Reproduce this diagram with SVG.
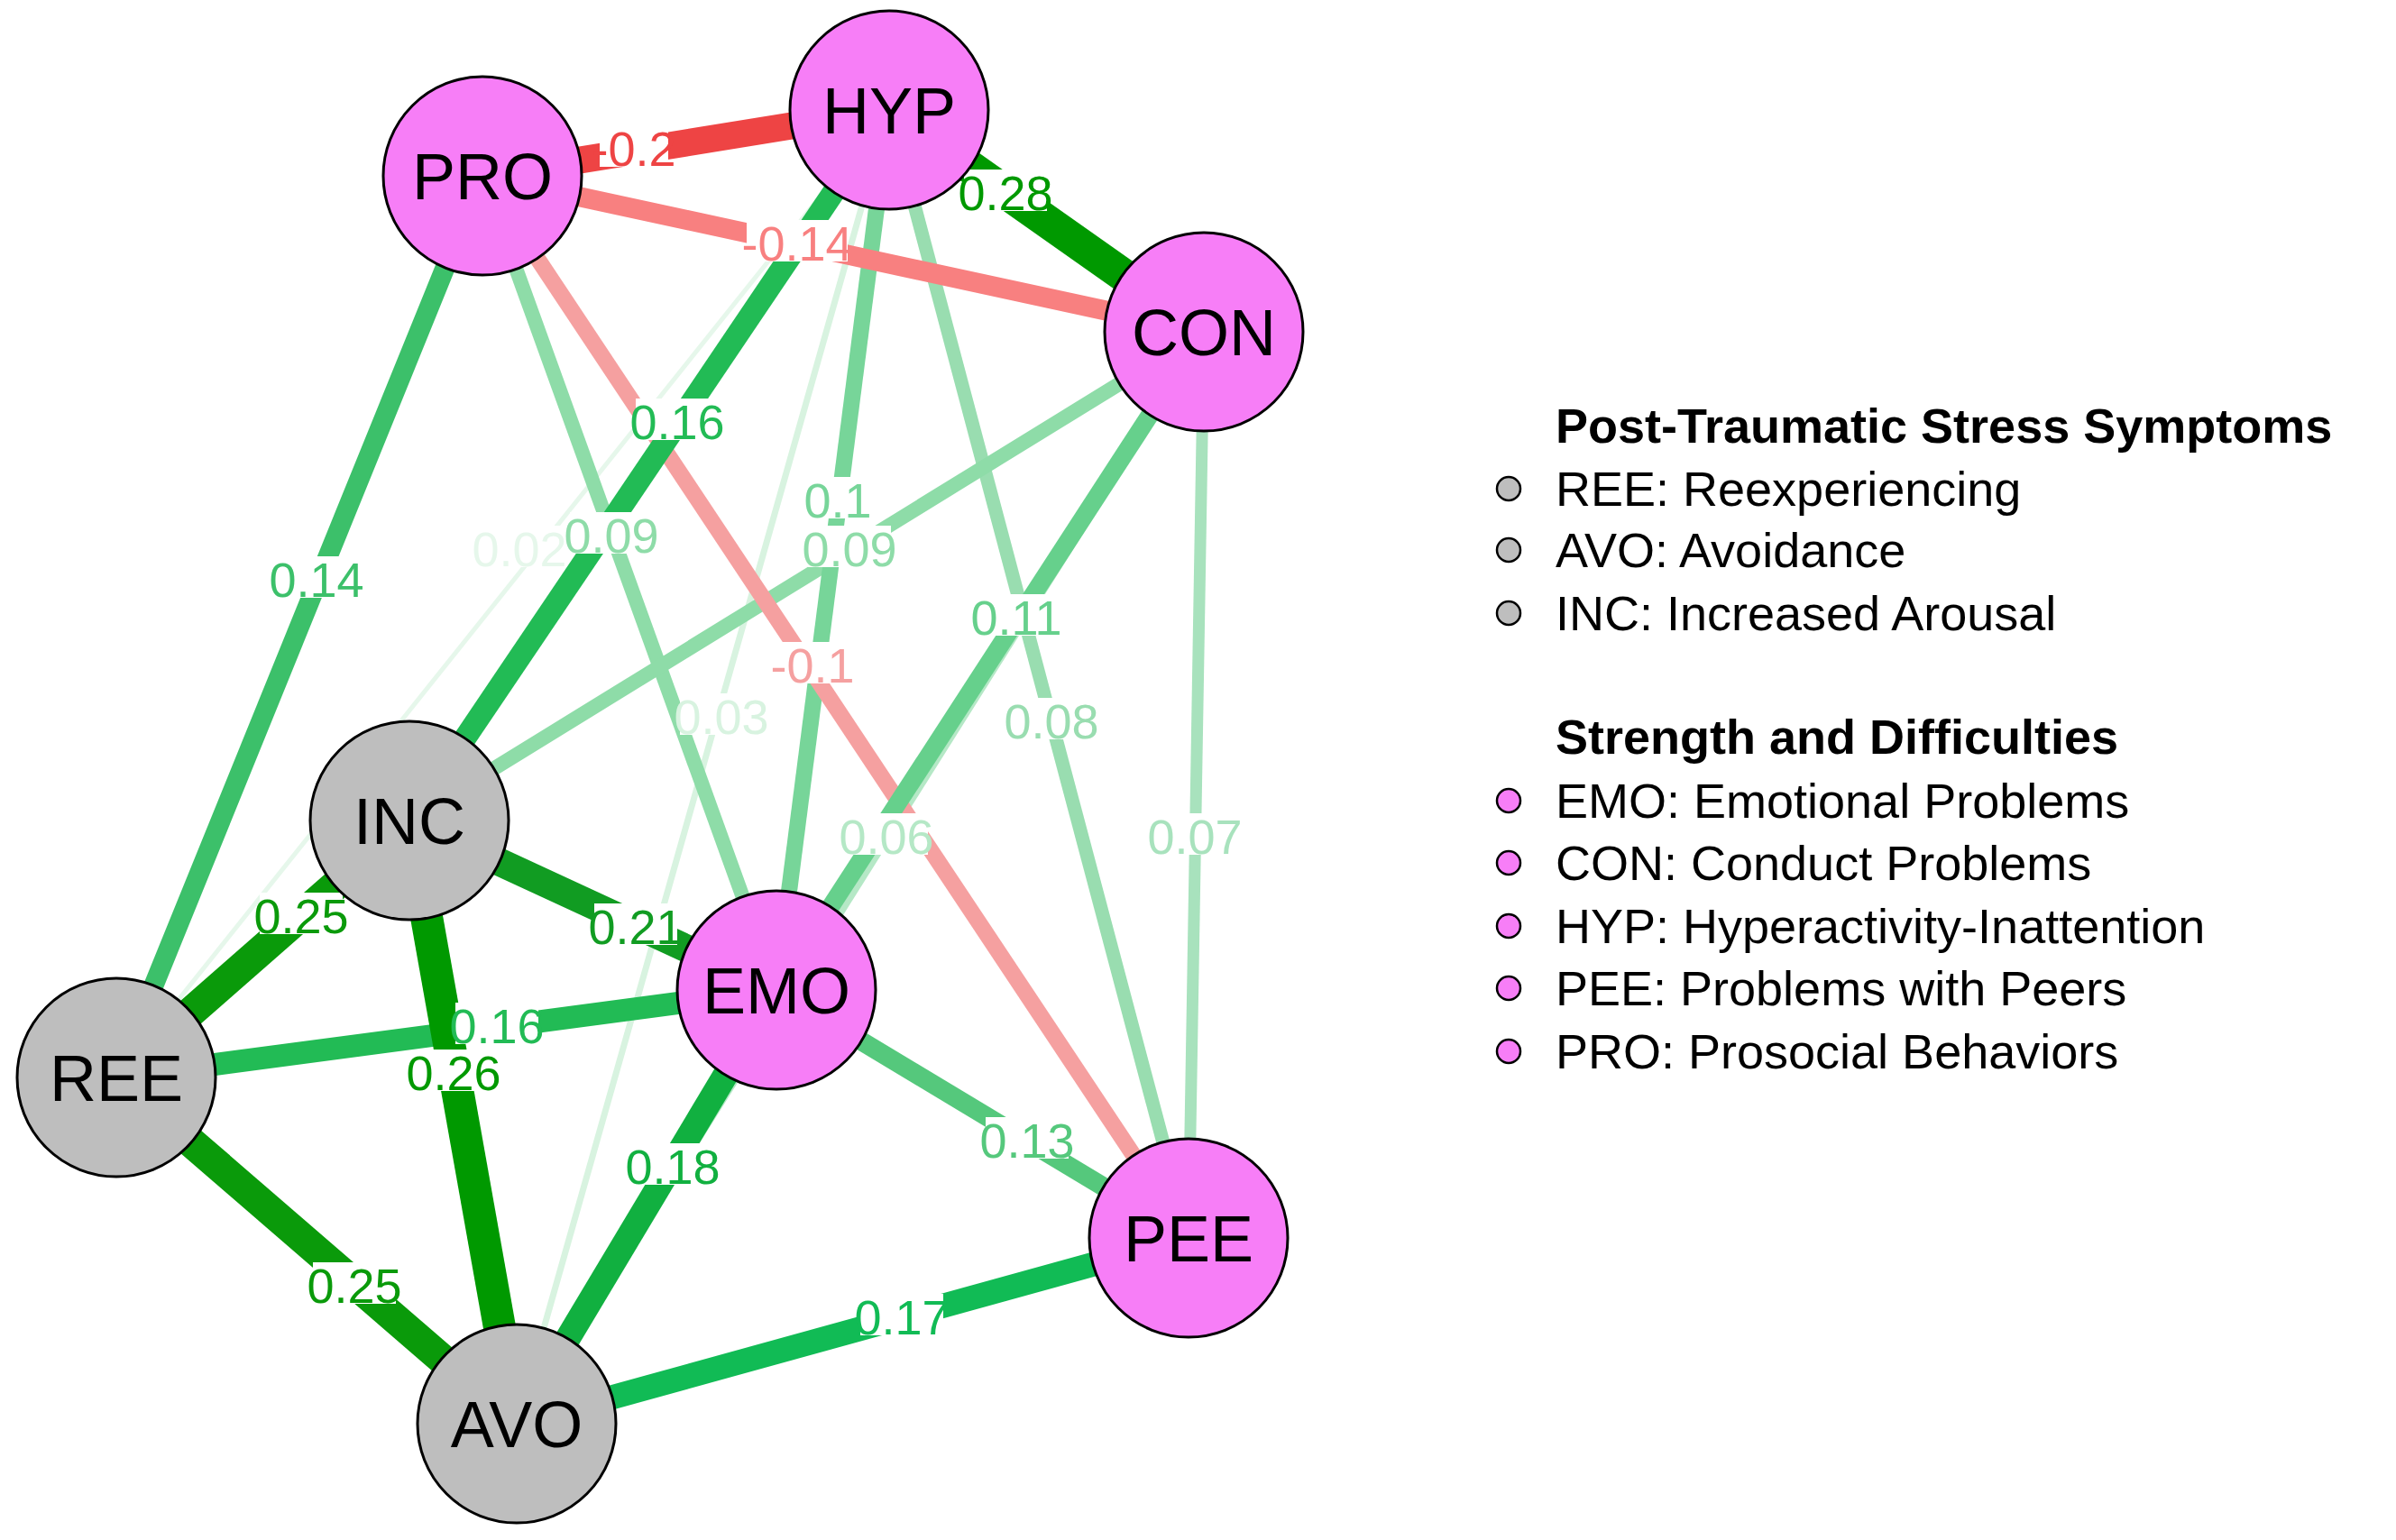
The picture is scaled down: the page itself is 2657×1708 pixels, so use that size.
<svg xmlns="http://www.w3.org/2000/svg" width="2657" height="1708" viewBox="0 0 2657 1708">
<style>
.n{stroke:#000;stroke-width:3}
.p{fill:#F77EF7}.g{fill:#BEBEBE}
.nt{font-family:"Liberation Sans",Arial,sans-serif;font-size:72px;text-anchor:middle;fill:#000}
.el{font-family:"Liberation Sans",Arial,sans-serif;font-size:54px;text-anchor:middle}
.lt{font-family:"Liberation Sans",Arial,sans-serif;font-size:54px;fill:#000}
.lb{font-weight:bold}
line{stroke-linecap:butt}
</style>
<rect width="2657" height="1708" fill="#fff"/>
<g id="connectors">
<line x1="986" y1="122" x2="129" y2="1195" stroke="#E6F7EB" stroke-width="5"/>
<line x1="986" y1="122" x2="573" y2="1579" stroke="#D8F3E0" stroke-width="7"/>
<line x1="1335" y1="368" x2="573" y2="1579" stroke="#B5E8C6" stroke-width="12"/>
<line x1="1335" y1="368" x2="1318" y2="1373" stroke="#A8E2BD" stroke-width="13"/>
<line x1="986" y1="122" x2="1318" y2="1373" stroke="#99DDB0" stroke-width="15"/>
<line x1="535" y1="195" x2="861" y2="1098" stroke="#8EDCA8" stroke-width="16"/>
<line x1="1335" y1="368" x2="454" y2="910" stroke="#8EDCA8" stroke-width="16"/>
<line x1="986" y1="122" x2="861" y2="1098" stroke="#77D599" stroke-width="18"/>
<line x1="535" y1="195" x2="1318" y2="1373" stroke="#F5A0A0" stroke-width="18"/>
<line x1="1335" y1="368" x2="861" y2="1098" stroke="#66D08C" stroke-width="20"/>
<line x1="861" y1="1098" x2="1318" y2="1373" stroke="#55C87C" stroke-width="21"/>
<line x1="535" y1="195" x2="1335" y2="368" stroke="#F88080" stroke-width="22"/>
<line x1="535" y1="195" x2="129" y2="1195" stroke="#3CC06A" stroke-width="22"/>
<line x1="986" y1="122" x2="454" y2="910" stroke="#22BB55" stroke-width="25"/>
<line x1="129" y1="1195" x2="861" y2="1098" stroke="#22BB55" stroke-width="25"/>
<line x1="573" y1="1579" x2="1318" y2="1373" stroke="#11BB55" stroke-width="27"/>
<line x1="861" y1="1098" x2="573" y2="1579" stroke="#11B040" stroke-width="28"/>
<line x1="535" y1="195" x2="986" y2="122" stroke="#EE4444" stroke-width="30"/>
<line x1="454" y1="910" x2="861" y2="1098" stroke="#119C22" stroke-width="31"/>
<line x1="454" y1="910" x2="129" y2="1195" stroke="#0A9A0A" stroke-width="34"/>
<line x1="129" y1="1195" x2="573" y2="1579" stroke="#0A9A0A" stroke-width="34"/>
<line x1="454" y1="910" x2="573" y2="1579" stroke="#009900" stroke-width="36"/>
<line x1="986" y1="122" x2="1335" y2="368" stroke="#009900" stroke-width="37"/>
</g>
<g id="edge-labels">
<g fill="#fff">
<rect x="532" y="583" width="92" height="46"/>
<rect x="754" y="769" width="92" height="46"/>
<rect x="937" y="902" width="92" height="46"/>
<rect x="1279" y="902" width="92" height="46"/>
<rect x="1120" y="774" width="92" height="46"/>
<rect x="632" y="568" width="92" height="46"/>
<rect x="896" y="583" width="92" height="46"/>
<rect x="898" y="529" width="62" height="46"/>
<rect x="1081" y="659" width="92" height="46"/>
<rect x="852" y="712" width="98" height="46"/>
<rect x="1093" y="1239" width="92" height="46"/>
<rect x="828" y="244" width="112" height="46"/>
<rect x="305" y="617" width="92" height="46"/>
<rect x="705" y="442" width="92" height="46"/>
<rect x="505" y="1112" width="92" height="46"/>
<rect x="954" y="1435" width="92" height="46"/>
<rect x="700" y="1268" width="92" height="46"/>
<rect x="665" y="139" width="76" height="46"/>
<rect x="659" y="1002" width="92" height="46"/>
<rect x="288" y="990" width="92" height="46"/>
<rect x="347" y="1400" width="92" height="46"/>
<rect x="457" y="1164" width="92" height="46"/>
<rect x="1069" y="188" width="92" height="46"/>
</g>
<text class="el" x="576" y="628" fill="#E6F7EB">0.02</text>
<text class="el" x="800" y="814" fill="#D8F3E0">0.03</text>
<text class="el" x="983" y="947" fill="#B5E8C6">0.06</text>
<text class="el" x="1325" y="947" fill="#A8E2BD">0.07</text>
<text class="el" x="1166" y="819" fill="#99DDB0">0.08</text>
<text class="el" x="678" y="613" fill="#8EDCA8">0.09</text>
<text class="el" x="942" y="628" fill="#8EDCA8">0.09</text>
<text class="el" x="929" y="574" fill="#77D599">0.1</text>
<text class="el" x="1127" y="704" fill="#66D08C">0.11</text>
<text class="el" x="901" y="757" fill="#F5A0A0">-0.1</text>
<text class="el" x="1139" y="1284" fill="#55C87C">0.13</text>
<text class="el" x="884" y="289" fill="#F88080">-0.14</text>
<text class="el" x="351" y="662" fill="#3CC06A">0.14</text>
<text class="el" x="751" y="487" fill="#22BB55">0.16</text>
<text class="el" x="551" y="1157" fill="#22BB55">0.16</text>
<text class="el" x="1000" y="1480" fill="#11BB55">0.17</text>
<text class="el" x="746" y="1313" fill="#11B040">0.18</text>
<text class="el" x="703" y="184" fill="#EE4444">-0.2</text>
<text class="el" x="705" y="1047" fill="#119C22">0.21</text>
<text class="el" x="334" y="1035" fill="#0A9A0A">0.25</text>
<text class="el" x="393" y="1445" fill="#0A9A0A">0.25</text>
<text class="el" x="503" y="1209" fill="#009900">0.26</text>
<text class="el" x="1115" y="233" fill="#009900">0.28</text>
</g>
<g id="PRO"><circle class="n p" cx="535" cy="195" r="110"/><text class="nt" x="535" y="221">PRO</text></g>
<g id="HYP"><circle class="n p" cx="986" cy="122" r="110"/><text class="nt" x="986" y="148">HYP</text></g>
<g id="CON"><circle class="n p" cx="1335" cy="368" r="110"/><text class="nt" x="1335" y="394">CON</text></g>
<g id="INC"><circle class="n g" cx="454" cy="910" r="110"/><text class="nt" x="454" y="936">INC</text></g>
<g id="EMO"><circle class="n p" cx="861" cy="1098" r="110"/><text class="nt" x="861" y="1124">EMO</text></g>
<g id="REE"><circle class="n g" cx="129" cy="1195" r="110"/><text class="nt" x="129" y="1221">REE</text></g>
<g id="PEE"><circle class="n p" cx="1318" cy="1373" r="110"/><text class="nt" x="1318" y="1399">PEE</text></g>
<g id="AVO"><circle class="n g" cx="573" cy="1579" r="110"/><text class="nt" x="573" y="1605">AVO</text></g>
<g id="legend">
<text class="lt lb" x="1725" y="491">Post-Traumatic Stress Symptoms</text>
<circle class="g" cx="1673" cy="542" r="13" stroke="#000" stroke-width="2.5"/><text class="lt" x="1725" y="561">REE: Reexperiencing</text>
<circle class="g" cx="1673" cy="610" r="13" stroke="#000" stroke-width="2.5"/><text class="lt" x="1725" y="629">AVO: Avoidance</text>
<circle class="g" cx="1673" cy="680" r="13" stroke="#000" stroke-width="2.5"/><text class="lt" x="1725" y="699">INC: Increased Arousal</text>
<text class="lt lb" x="1725" y="836">Strength and Difficulties</text>
<circle class="p" cx="1673" cy="888" r="13" stroke="#000" stroke-width="2.5"/><text class="lt" x="1725" y="907">EMO: Emotional Problems</text>
<circle class="p" cx="1673" cy="957" r="13" stroke="#000" stroke-width="2.5"/><text class="lt" x="1725" y="976">CON: Conduct Problems</text>
<circle class="p" cx="1673" cy="1027" r="13" stroke="#000" stroke-width="2.5"/><text class="lt" x="1725" y="1046">HYP: Hyperactivity-Inattention</text>
<circle class="p" cx="1673" cy="1096" r="13" stroke="#000" stroke-width="2.5"/><text class="lt" x="1725" y="1115">PEE: Problems with Peers</text>
<circle class="p" cx="1673" cy="1166" r="13" stroke="#000" stroke-width="2.5"/><text class="lt" x="1725" y="1185">PRO: Prosocial Behaviors</text>
</g>
</svg>
